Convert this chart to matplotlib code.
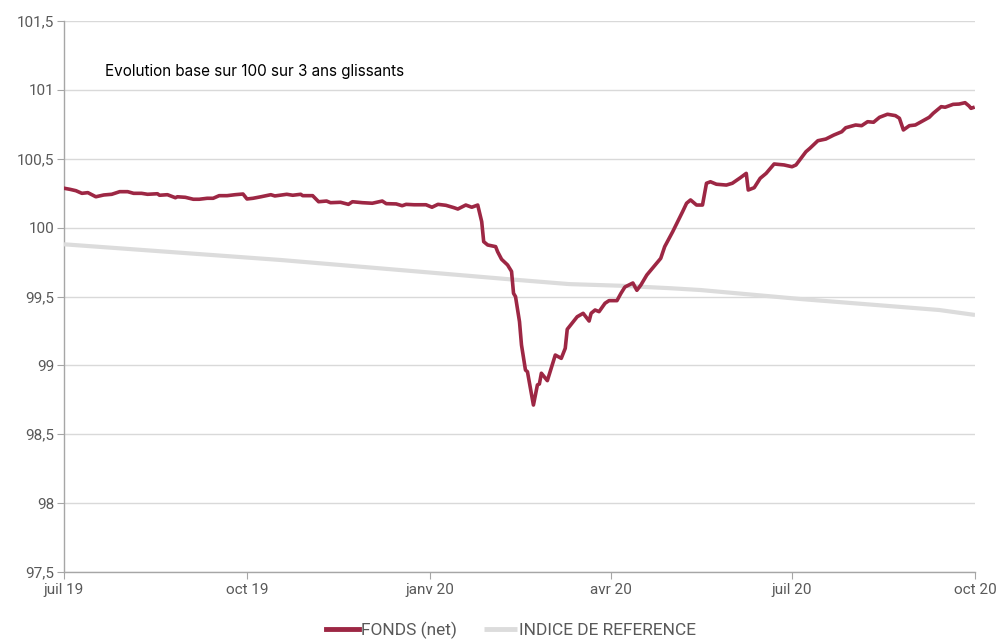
import matplotlib
matplotlib.use("Agg")
import matplotlib.pyplot as plt
import pandas as pd

start_date = "2019-07-01"

# FONDS (net): day offsets from start_date and values
fonds_days = [0, 3, 6, 9, 12, 16, 20, 24, 28, 32, 35, 39, 42, 47, 48, 52, 56, 57, 61, 65,
              68, 72, 75, 78, 82, 86, 90, 92, 95, 99, 104, 106, 112, 115, 119, 120, 125, 128, 132, 134,
              139, 143, 145, 150, 155, 160, 162, 167, 170, 172, 176, 182, 185, 188, 192, 196, 198, 202, 205, 208,
              209, 210, 211, 213, 217, 218, 220, 223, 225, 226, 227, 229, 230, 232, 233, 236, 238, 239, 240, 243,
              247, 250, 252, 253, 258, 261, 264, 265, 267, 269, 272, 274, 278, 280, 282, 286, 288, 290, 293, 300,
              302, 306, 311, 313, 315, 318, 321, 323, 325, 328, 333, 336, 340, 343, 344, 347, 350, 353, 357, 362,
              366, 368, 373, 375, 379, 383, 387, 391, 393, 398, 401, 404, 407, 410, 414, 418, 420, 422, 425, 428,
              431, 435, 437, 441, 443, 447, 450, 453, 455, 456, 457]
fonds_values = [100.286, 100.278, 100.268, 100.249, 100.254, 100.224, 100.237, 100.242, 100.261, 100.261,
                100.249, 100.249, 100.242, 100.246, 100.235, 100.239, 100.217, 100.224, 100.220, 100.206,
                100.206, 100.213, 100.213, 100.232, 100.232, 100.239, 100.244, 100.208, 100.213, 100.224,
                100.239, 100.230, 100.242, 100.235, 100.242, 100.232, 100.232, 100.188, 100.193, 100.181,
                100.184, 100.169, 100.188, 100.181, 100.177, 100.193, 100.174, 100.172, 100.159, 100.169,
                100.166, 100.166, 100.148, 100.169, 100.162, 100.145, 100.135, 100.164, 100.148, 100.164,
                100.104, 100.043, 99.898, 99.874, 99.862, 99.825, 99.770, 99.729, 99.682, 99.523,
                99.499, 99.317, 99.148, 98.966, 98.954, 98.712, 98.858, 98.865, 98.943, 98.889,
                99.075, 99.051, 99.124, 99.262, 99.353, 99.378, 99.322, 99.378, 99.402, 99.390,
                99.451, 99.470, 99.470, 99.523, 99.569, 99.598, 99.545, 99.583, 99.656, 99.777,
                99.862, 99.970, 100.116, 100.177, 100.201, 100.164, 100.164, 100.322, 100.333, 100.315,
                100.309, 100.322, 100.362, 100.394, 100.273, 100.290, 100.358, 100.394, 100.462, 100.455,
                100.442, 100.455, 100.551, 100.576, 100.631, 100.643, 100.672, 100.696, 100.725, 100.745,
                100.740, 100.769, 100.765, 100.801, 100.823, 100.813, 100.794, 100.709, 100.740, 100.745,
                100.769, 100.801, 100.830, 100.878, 100.874, 100.895, 100.897, 100.907, 100.883, 100.866,
                100.871]

# INDICE DE REFERENCE
indice_days = [0, 109, 179, 224, 254, 280, 305, 320, 370, 440, 458]
indice_values = [99.879, 99.765, 99.680, 99.625, 99.590, 99.578, 99.560, 99.547, 99.482, 99.402, 99.366]

x_tick_dates = ["2019-07-01", "2019-10-01", "2020-01-01", "2020-04-01", "2020-07-01", "2020-10-01"]
x_tick_labels = ["juil 19", "oct 19", "janv 20", "avr 20", "juil 20", "oct 20"]
y_ticks = [97.5, 98, 98.5, 99, 99.5, 100, 100.5, 101, 101.5]
y_tick_labels = ["97,5", "98", "98,5", "99", "99,5", "100", "100,5", "101", "101,5"]

title_text = "Evolution base sur 100 sur 3 ans glissants"
series_names = ["FONDS (net)", "INDICE DE REFERENCE"]

t0 = pd.Timestamp(start_date)
fonds_dates = [t0 + pd.Timedelta(days=d) for d in fonds_days]
indice_dates = [t0 + pd.Timedelta(days=d) for d in indice_days]

label_font = ['Roboto', 'DejaVu Sans']
grey_text = '#595959'

fig = plt.figure(figsize=(9.99, 6.39), dpi=100)
ax = fig.add_axes([64/999, 67/639, 911/999, 551/639])

ax.plot(indice_dates, indice_values, color='#dcdcdc', lw=3.0, solid_capstyle='butt',
        label=series_names[1], zorder=3)
ax.plot(fonds_dates, fonds_values, color='#9d2744', lw=2.6, solid_joinstyle='round',
        label=series_names[0], zorder=4)

ax.set_xlim(pd.Timestamp(x_tick_dates[0]), pd.Timestamp(x_tick_dates[-1]))
ax.set_ylim(y_ticks[0], y_ticks[-1])

ax.set_xticks([pd.Timestamp(d) for d in x_tick_dates])
ax.set_xticklabels(x_tick_labels, family=label_font, fontsize=11, color=grey_text)
ax.set_yticks(y_ticks)
ax.set_yticklabels(y_tick_labels, family=label_font, fontsize=11, color=grey_text)

ax.grid(axis='y', color='#d9d9d9', lw=1.0, zorder=0)
ax.set_axisbelow(True)
for s in ['top', 'right']:
    ax.spines[s].set_visible(False)
for s in ['left', 'bottom']:
    ax.spines[s].set_color('#a6a6a6')
    ax.spines[s].set_linewidth(1.0)
ax.tick_params(axis='x', length=5, color='#a6a6a6', pad=3)
ax.tick_params(axis='y', length=5, color='#a6a6a6', pad=2)

ax.text(0.045, 0.908, title_text, transform=ax.transAxes, fontsize=11,
        family=['Inter', 'DejaVu Sans'], color='black', va='center', ha='left')

handles, labels = ax.get_legend_handles_labels()
leg = fig.legend(handles[::-1], labels[::-1], loc='center', bbox_to_anchor=(511/999, 1 - 630/639),
                 ncol=2, frameon=False, handlelength=1.9, handletextpad=0.12, columnspacing=1.6,
                 prop={'family': label_font, 'size': 12.5})
for t in leg.get_texts():
    t.set_color(grey_text)
for l in leg.get_lines():
    l.set_linewidth(3.5)

fig.savefig("out.png", dpi=100)
